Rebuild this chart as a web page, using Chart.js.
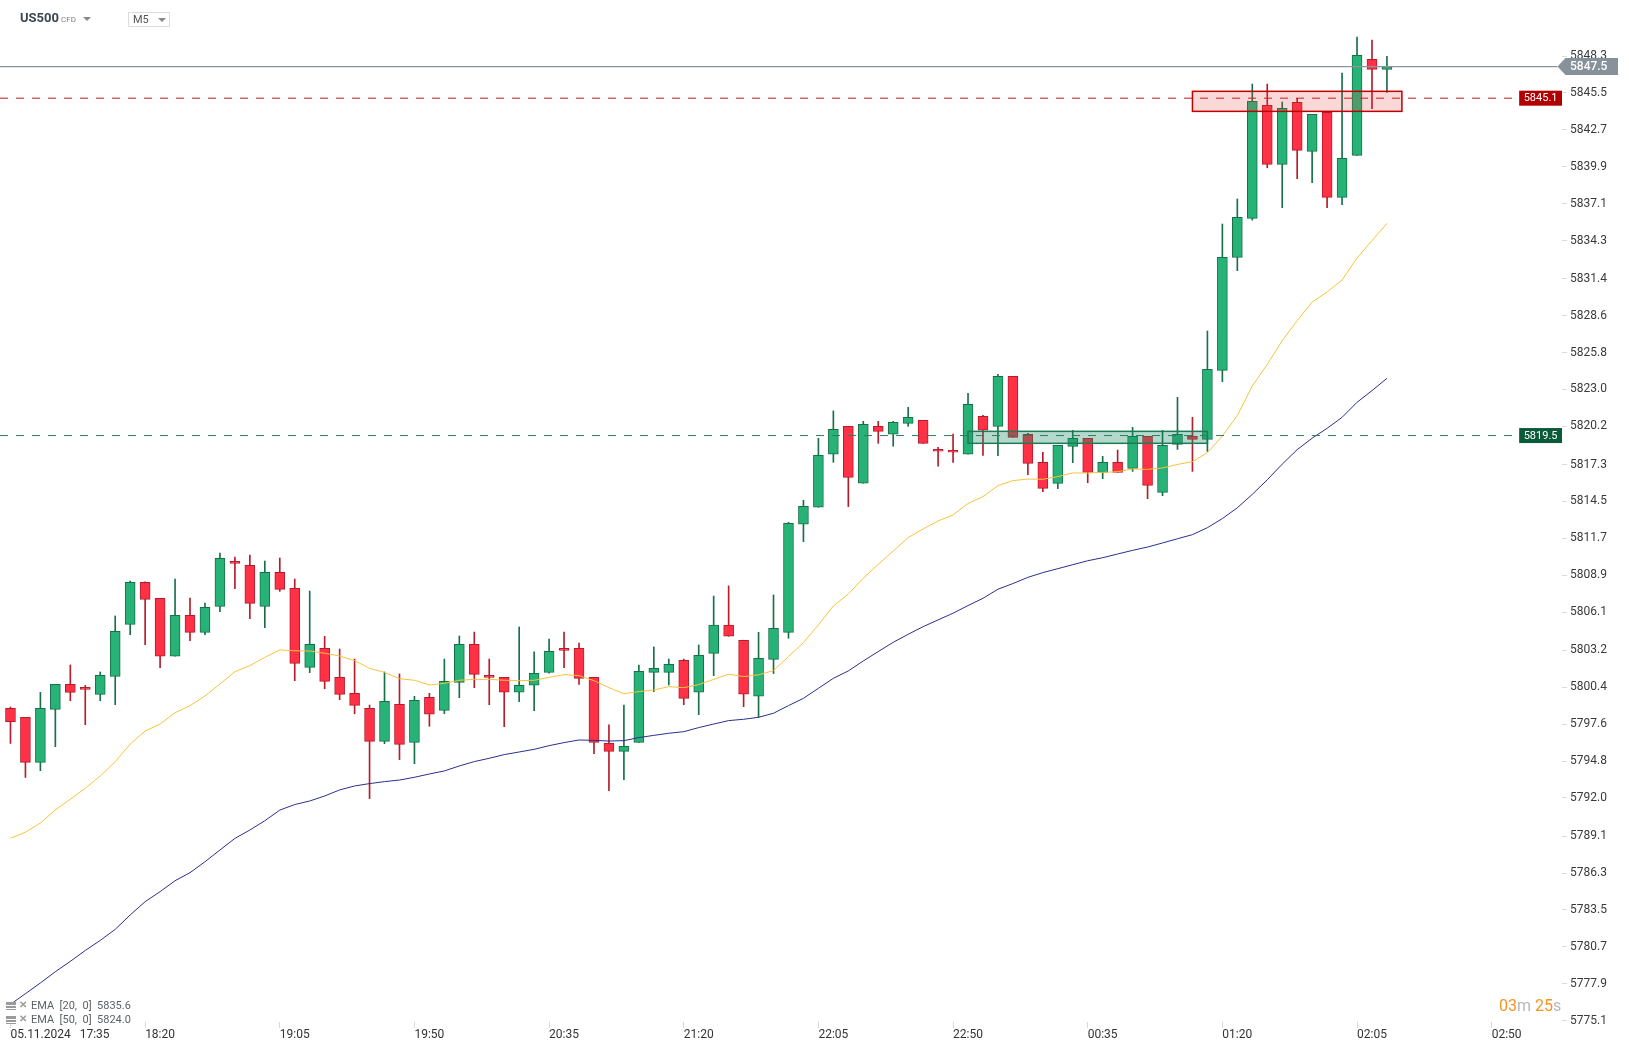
<!DOCTYPE html>
<html>
<head>
<meta charset="utf-8">
<script src="https://cdn.jsdelivr.net/npm/chart.js@4.4.1/dist/chart.umd.min.js"></script>
<style>
html,body{margin:0;padding:0;background:#fff;}
#wrap{position:relative;width:1629px;height:1049px;font-family:Roboto,"Open Sans",Arial,sans-serif;overflow:hidden;}
#c{position:absolute;left:0;top:0;}
.ov{position:absolute;white-space:pre;}
#sym{left:20px;top:10px;font-size:13px;font-weight:700;color:#3c4651;}
#cfd{left:61px;top:15px;font-size:8px;color:#7a7f85;}
.tri{position:absolute;width:0;height:0;border-left:4px solid transparent;border-right:4px solid transparent;border-top:4px solid #888;}
#tf{left:128px;top:12px;width:42px;height:15px;border:1px solid #dcdcdc;box-sizing:border-box;}
#tft{left:133px;top:13px;font-size:11px;color:#555;}
.lg{font-size:11px;color:#5e6266;}
.ico1{position:absolute;width:10px;height:8px;background:linear-gradient(#9a9a9a 0 3px,#fff 3px 4px,#9a9a9a 4px 6px,#fff 6px 7px,#9a9a9a 7px 8px);}
.ico2{position:absolute;font-size:10px;color:#9a9a9a;font-weight:700;}
#cd{left:1499px;top:996px;font-size:16px;}
#cd .o{color:#f7931e;}
#cd .g{color:#b8b8b8;}
</style>
</head>
<body>
<div id="wrap">
<canvas id="c" width="1629" height="1049"></canvas>
<div class="ov" id="sym">US500</div>
<div class="ov" id="cfd">CFD</div>
<div class="tri" style="left:83px;top:17px;"></div>
<div class="ov" id="tf"></div>
<div class="ov" id="tft">M5</div>
<div class="tri" style="left:158px;top:18px;"></div>
<div class="ico1" style="left:6px;top:1002px;"></div>
<div class="ico2" style="left:19px;top:999px;">✕</div>
<div class="ov lg" style="left:31px;top:999px;">EMA  [20,  0]  5835.6</div>
<div class="ico1" style="left:6px;top:1016px;"></div>
<div class="ico2" style="left:19px;top:1013px;">✕</div>
<div class="ov lg" style="left:31px;top:1013px;">EMA  [50,  0]  5824.0</div>
<div class="ov" id="cd"><span class="o">03</span><span class="g">m </span><span class="o">25</span><span class="g">s</span></div>
</div>
<script>
// ---- data (M5 candles, US500 CFD) ----
const opens = [5798.80,5798.12,5794.70,5798.72,5800.62,5800.39,5799.86,5801.23,5805.17,5808.36,
5807.15,5802.75,5805.86,5804.57,5806.54,5809.95,5809.65,5806.54,5809.12,5807.90,
5801.91,5803.35,5801.15,5799.94,5798.80,5796.30,5799.11,5796.22,5799.64,5798.65,
5800.77,5803.66,5801.30,5801.15,5800.02,5800.55,5801.53,5803.35,5803.35,5801.15,
5796.15,5795.54,5796.22,5801.53,5801.53,5802.44,5800.02,5802.97,5805.11,5803.97,
5799.72,5802.52,5804.57,5812.77,5814.06,5818.08,5820.20,5815.88,5820.20,5819.60,
5820.43,5820.66,5818.46,5818.38,5818.08,5820.96,5820.20,5823.99,5819.59,5817.47,
5815.87,5818.68,5819.29,5816.71,5817.47,5817.01,5819.44,5815.19,5818.83,5819.44,
5819.21,5824.45,5833.02,5835.98,5844.55,5840.08,5844.78,5841.06,5844.02,5837.57,
5840.76,5848.04,5847.29];
const highs = [5798.90,5798.12,5800.01,5800.62,5802.09,5800.54,5801.56,5805.81,5808.46,5808.40,
5807.15,5808.61,5807.17,5806.79,5810.59,5810.28,5810.43,5809.98,5810.21,5808.61,
5807.70,5804.26,5803.30,5802.54,5799.05,5801.56,5801.41,5799.71,5799.94,5802.54,
5804.29,5804.59,5802.54,5801.15,5804.97,5803.08,5804.06,5804.59,5803.76,5801.15,
5797.54,5799.05,5802.09,5803.46,5802.54,5802.54,5803.61,5807.32,5808.09,5803.97,
5804.57,5807.41,5812.92,5814.59,5819.29,5821.37,5820.20,5820.58,5820.58,5820.58,
5821.64,5820.66,5818.61,5819.62,5822.71,5821.04,5824.14,5823.99,5819.67,5818.23,
5818.76,5819.89,5819.29,5817.92,5818.40,5820.12,5819.44,5819.89,5822.40,5820.88,
5827.43,5835.55,5837.45,5846.17,5846.17,5844.81,5845.09,5843.87,5844.10,5847.01,
5849.74,5849.51,5848.27];
const lows = [5796.14,5793.56,5794.07,5795.89,5799.38,5797.56,5799.38,5799.08,5804.39,5803.63,
5801.89,5802.75,5803.94,5804.39,5806.14,5807.88,5805.60,5804.92,5807.68,5800.90,
5801.51,5800.29,5799.46,5798.39,5791.95,5796.12,5794.91,5794.60,5797.44,5798.40,
5799.61,5800.37,5799.08,5797.41,5799.31,5798.63,5801.46,5801.89,5800.62,5795.36,
5792.55,5793.39,5796.22,5800.07,5800.57,5799.08,5798.32,5801.28,5804.27,5798.93,
5798.12,5801.44,5804.12,5811.45,5814.06,5817.47,5814.11,5815.88,5818.91,5818.69,
5820.20,5818.91,5817.17,5817.47,5818.08,5818.00,5817.97,5819.36,5816.53,5815.24,
5815.47,5817.44,5815.92,5816.23,5816.71,5816.78,5814.71,5814.94,5818.45,5816.78,
5818.30,5823.59,5832.01,5835.85,5839.82,5836.79,5838.99,5838.69,5836.79,5837.02,
5840.76,5844.30,5845.54];
const closes = [5797.79,5794.70,5798.80,5800.62,5800.01,5800.24,5801.30,5804.64,5808.36,5807.07,
5802.75,5805.86,5804.57,5806.46,5810.18,5809.80,5806.77,5809.12,5807.83,5802.21,
5803.66,5800.85,5799.86,5799.03,5796.30,5799.33,5796.07,5799.41,5798.35,5800.85,
5803.66,5801.38,5801.15,5800.02,5800.55,5801.46,5803.13,5803.20,5801.08,5796.22,
5795.54,5795.92,5801.61,5801.84,5802.14,5799.56,5802.82,5805.12,5804.27,5799.87,
5802.60,5804.88,5812.84,5814.13,5818.00,5819.98,5816.33,5820.35,5819.82,5820.51,
5820.89,5818.91,5818.31,5818.23,5821.87,5819.90,5823.99,5819.36,5817.39,5815.49,
5818.76,5819.29,5816.71,5817.47,5816.71,5819.44,5815.72,5818.76,5819.59,5819.21,
5824.52,5833.02,5836.06,5844.86,5840.08,5844.33,5841.14,5843.87,5837.57,5840.53,
5848.35,5847.29,5847.50];
const ema20 = [5788.95,5789.40,5790.10,5791.10,5791.90,5792.73,5793.67,5794.75,5796.09,5797.08,
5797.61,5798.47,5799.00,5799.74,5800.65,5801.58,5802.04,5802.67,5803.23,5803.17,
5803.15,5802.98,5802.77,5802.42,5801.84,5801.53,5801.05,5800.93,5800.57,5800.70,
5800.93,5801.00,5801.00,5800.93,5800.90,5800.93,5801.15,5801.36,5801.28,5800.90,
5800.37,5799.91,5800.07,5800.19,5800.45,5800.37,5800.60,5801.00,5801.39,5801.21,
5801.34,5801.67,5802.73,5803.79,5805.13,5806.57,5807.48,5808.67,5809.73,5810.74,
5811.76,5812.41,5813.02,5813.48,5814.34,5814.87,5815.70,5816.08,5816.20,5816.18,
5816.38,5816.66,5816.66,5816.71,5816.76,5816.96,5816.93,5817.04,5817.31,5817.52,
5818.20,5819.47,5821.01,5823.26,5824.90,5826.70,5828.22,5829.63,5830.39,5831.30,
5832.97,5834.29,5835.60];
const ema50 = [5776.34,5777.15,5777.96,5778.82,5779.60,5780.43,5781.19,5782.03,5783.12,5784.13,
5784.89,5785.72,5786.33,5787.16,5788.05,5788.93,5789.57,5790.27,5791.08,5791.50,
5791.77,5792.15,5792.61,5792.91,5793.09,5793.24,5793.36,5793.57,5793.82,5794.05,
5794.43,5794.76,5795.01,5795.29,5795.49,5795.69,5795.97,5796.20,5796.40,5796.37,
5796.32,5796.35,5796.58,5796.75,5796.91,5797.03,5797.34,5797.61,5797.87,5797.97,
5798.12,5798.43,5799.01,5799.56,5800.32,5801.08,5801.64,5802.40,5803.11,5803.81,
5804.42,5805.00,5805.51,5806.02,5806.60,5807.15,5807.84,5808.27,5808.74,5809.10,
5809.40,5809.70,5810.00,5810.23,5810.51,5810.79,5811.04,5811.35,5811.67,5811.98,
5812.51,5813.20,5814.02,5815.04,5816.14,5817.33,5818.43,5819.30,5820.05,5820.88,
5822.02,5822.91,5823.84];

const xTickIdx = [0,9,18,27,36,45,54,63,72,81,90,99];
const xTickLabels = ['05.11.2024   17:35','18:20','19:05','19:50','20:35','21:20','22:05','22:50','00:35','01:20','02:05','02:50'];
const yTicks = [5848.3,5845.5,5842.7,5839.9,5837.1,5834.3,5831.4,5828.6,5825.8,5823.0,5820.2,5817.3,5814.5,
5811.7,5808.9,5806.1,5803.2,5800.4,5797.6,5794.8,5792.0,5789.1,5786.3,5783.5,5780.7,5777.9,5775.1];
const xRange = [-0.7, 103.7];
const yRange = [5775.00, 5852.55];

// horizontal levels
const levelValues = [5845.1, 5819.5];
const levelEndX = 100.57;
const currentPrice = 5847.5;
const currentEndX = 103.4;
// zones (index range, price range)
const zoneX0 = [79, 64];
const zoneX1 = [93, 80];
const zoneLow = [5844.10, 5818.91];
const zoneHigh = [5845.62, 5819.82];

// ---- styles ----
const UP = '#27b378', UPB = '#177048', DN = '#ff3146', DNB = '#b51d2b';
const levelColors = ['#c4161c', '#2f7d5d'];
const levelBoxColors = ['#b00000', '#0b5a39'];
const zoneFill = ['rgba(235,60,60,0.20)', 'rgba(26,140,100,0.33)'];
const zoneStroke = ['#c00000', '#1e7a55'];

const up = closes.map((c,i)=>c>=opens[i]);
const bodyData = opens.map((o,i)=>({x:i, y:[o, closes[i]]}));
const wickData = lows.map((l,i)=>({x:i, y:[l, highs[i]]}));

const levelDatasets = levelValues.map((v,k)=>({
  type:'line', data:[{x:xRange[0],y:v},{x:levelEndX,y:v}],
  borderColor:levelColors[k], borderWidth:1, borderDash:[8,8], pointRadius:0, order:0
}));

const levelPlugin = {
  id:'levels',
  afterDatasetsDraw(chart){
    const {ctx, scales:{x,y}} = chart;
    ctx.save();
    for(let k=0;k<zoneX0.length;k++){
      const x0=x.getPixelForValue(zoneX0[k]), x1=x.getPixelForValue(zoneX1[k]);
      const y0=y.getPixelForValue(zoneHigh[k]), y1=y.getPixelForValue(zoneLow[k]);
      ctx.fillStyle=zoneFill[k];
      ctx.fillRect(x0,y0,x1-x0,y1-y0);
      ctx.strokeStyle=zoneStroke[k]; ctx.lineWidth=1.5;
      ctx.strokeRect(x0,y0,x1-x0,y1-y0);
    }
    ctx.restore();
  },
  afterDraw(chart){
    const {ctx, chartArea, scales:{x,y}} = chart;
    ctx.save();
    ctx.font='11px Roboto, sans-serif';
    ctx.textBaseline='middle';
    levelValues.forEach((v,k)=>{
      const py=y.getPixelForValue(v);
      const bx=x.getPixelForValue(levelEndX)+4, bw=chartArea.right-bx;
      ctx.fillStyle=levelBoxColors[k];
      ctx.fillRect(bx,py-7.5,bw,15);
      ctx.fillStyle='#fff'; ctx.textAlign='center';
      ctx.fillText(v.toFixed(1), bx+bw/2, py+0.5);
    });
    // current price tag
    const py=y.getPixelForValue(currentPrice);
    const tip=x.getPixelForValue(currentEndX);
    ctx.fillStyle='#87919a';
    ctx.beginPath();
    ctx.moveTo(tip,py); ctx.lineTo(tip+8,py-8.5); ctx.lineTo(1618,py-8.5);
    ctx.lineTo(1618,py+8.5); ctx.lineTo(tip+8,py+8.5); ctx.closePath(); ctx.fill();
    ctx.fillStyle='#fff'; ctx.textAlign='left'; ctx.font='500 12px Roboto, sans-serif';
    ctx.fillText(currentPrice.toFixed(1), chartArea.right+8, py+0.5);
    ctx.restore();
  }
};

const zeroPad = s=>{ s.paddingLeft=0; s.paddingRight=0; s.paddingTop=0; s.paddingBottom=0; };

new Chart(document.getElementById('c'), {
  type:'bar',
  data:{ datasets:[
    { type:'line', label:'EMA20', data:ema20.map((v,i)=>({x:i,y:v})), borderColor:'#f8c33c', borderWidth:1, pointRadius:0, tension:0, order:1 },
    { type:'line', label:'EMA50', data:ema50.map((v,i)=>({x:i,y:v})), borderColor:'#2b2f8c', borderWidth:1, pointRadius:0, tension:0, order:1 },
    ...levelDatasets,
    { type:'line', label:'price', data:[{x:xRange[0],y:currentPrice},{x:currentEndX,y:currentPrice}], borderColor:'#8c959c', borderWidth:1.3, pointRadius:0, order:0 },
    { type:'bar', label:'body', data:bodyData, backgroundColor:up.map(u=>u?UP:DN), borderColor:up.map(u=>u?UPB:DNB),
      borderWidth:1, borderSkipped:false, barThickness:10, grouped:false, order:2 },
    { type:'bar', label:'wick', data:wickData, backgroundColor:up.map(u=>u?UPB:DNB), borderWidth:0,
      barThickness:1, grouped:false, order:3 }
  ]},
  options:{
    responsive:false, animation:false, devicePixelRatio:1,
    layout:{padding:0},
    plugins:{legend:{display:false}, tooltip:{enabled:false}},
    scales:{
      x:{ type:'linear', min:xRange[0], max:xRange[1], offset:false,
        grid:{offset:false, drawOnChartArea:false, drawTicks:true, tickLength:6, color:'#d9d9d9'},
        border:{display:false},
        afterBuildTicks:s=>{ s.ticks = xTickIdx.map(v=>({value:v})); },
        afterFit:s=>{ s.height=27; zeroPad(s); },
        ticks:{ autoSkip:false, maxRotation:0, align:'start', padding:0, color:'#333',
          font:{family:'Roboto', size:12},
          callback:v=>xTickLabels[xTickIdx.indexOf(v)] }
      },
      y:{ type:'linear', position:'right', min:yRange[0], max:yRange[1],
        grid:{drawOnChartArea:false, drawTicks:true, tickLength:5, color:'#dcdcdc'},
        border:{display:false},
        afterBuildTicks:s=>{ s.ticks = yTicks.map(v=>({value:v})); },
        afterFit:s=>{ s.width=67; zeroPad(s); },
        ticks:{ autoSkip:false, padding:3, color:'#3a3a3a', font:{family:'Roboto', size:12},
          callback:v=>Number(v).toFixed(1) }
      }
    }
  },
  plugins:[levelPlugin]
});
</script>
</body>
</html>
